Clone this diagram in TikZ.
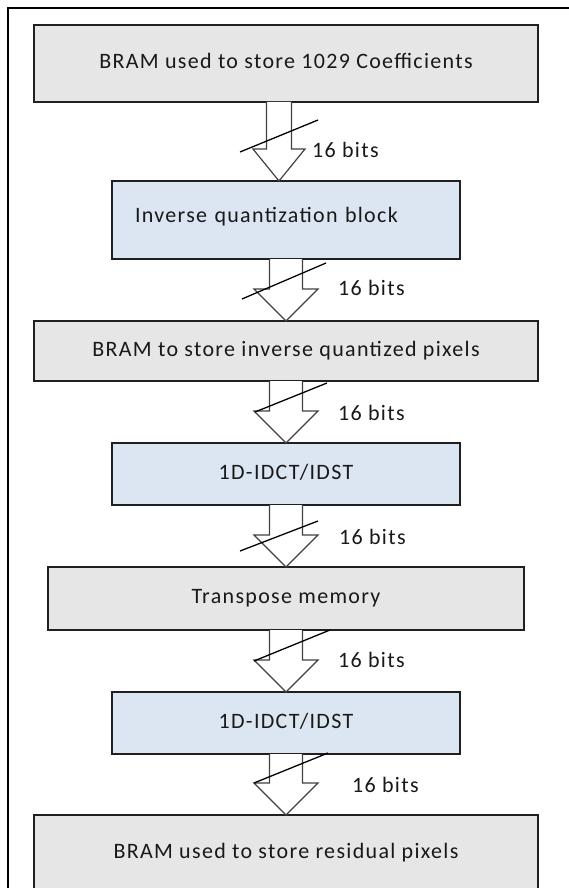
\documentclass[tikz,border=0pt]{standalone}
\usepackage{fontspec}
\setmainfont{Carlito}[LetterSpace=6]
\usetikzlibrary{calc}

\definecolor{memgray}{HTML}{E6E6E6}
\definecolor{procblue}{HTML}{DCE6F2}
\definecolor{inkline}{HTML}{202020}

\tikzset{
  blockbox/.style={draw=inkline, line width=1.5pt, inner sep=0pt, outer sep=0pt,
    font=\fontsize{22pt}{26pt}\selectfont, text=black!90,
    text height=15pt, text depth=5pt},
  membox/.style={blockbox, fill=memgray},
  procbox/.style={blockbox, fill=procblue},
  fatline/.style={draw=inkline!85, line width=1.2pt, fill=white, line join=miter},
  slashline/.style={draw=black, line width=1.3pt},
  buswidth/.style={anchor=west, inner sep=0pt, font=\fontsize{22pt}{26pt}\selectfont, text=black!90},
}

% hollow block arrow from #1 to #2, axis offset #3, shaft half width #4,
% head half width #5, bus slash from #6 to #7 (relative to the tip)
\newcommand\fatarrow[7]{%
  \draw[fatline]
    ($(#1.south)+(#3-#4,0)$) -- ($(#2.north)+(#3-#4,-32)$) --
    ($(#2.north)+(#3-#5,-32)$) -- ($(#2.north)+(#3,0)$) --
    ($(#2.north)+(#3+#5,-32)$) -- ($(#2.north)+(#3+#4,-32)$) --
    ($(#1.south)+(#3+#4,0)$);
  \draw[slashline] ($(#2.north)+(#3,0)+(#6)$) -- ($(#2.north)+(#3,0)+(#7)$);
}

\begin{document}
\begin{tikzpicture}[x=1pt,y=-1pt]
\useasboundingbox (0,0) rectangle (569,888);
\fill[white] (0,0) rectangle (569,888);

% outer frame
\draw[line width=2pt, black] (8,890) -- (8,8) -- (571,8);

% blocks
\node[membox, minimum width=504pt, minimum height=77pt] (b1) at (286,63.5)
  {BRAM used to store 1029 Coefficients};
\node[procbox, minimum width=348pt, minimum height=78pt, text width=302pt,
  align=left, text height=12pt, text depth=8pt] (b2) at (286,220)
  {Inverse quantization block};
\node[membox, minimum width=504pt, minimum height=60pt] (b3) at (286,351)
  {BRAM to store inverse quantized pixels};
\node[procbox, minimum width=348pt, minimum height=62pt] (b4) at (286,474)
  {1D-IDCT/IDST};
\node[membox, minimum width=476pt, minimum height=63pt] (b5) at (286,598.5)
  {Transpose memory};
\node[procbox, minimum width=348pt, minimum height=62pt] (b6) at (286,723)
  {1D-IDCT/IDST};
\node[membox, minimum width=504pt, minimum height=90pt, anchor=north,
  text height=8pt, text depth=12pt] (b7) at (286,815)
  {BRAM used to store residual pixels};

% data paths
\fatarrow{b1}{b2}{-7}{12.5}{26}{-39,-29}{39,-61}
\fatarrow{b2}{b3}{0}{16.5}{32}{-44,-22}{40,-58}
\fatarrow{b3}{b4}{0}{16.5}{32}{-31,-31}{41,-60}
\fatarrow{b4}{b5}{0}{16.5}{32}{-46,-16}{32,-46}
\fatarrow{b5}{b6}{0}{16.5}{32}{-32,-31}{44,-62}
\fatarrow{b6}{b7}{0}{16.5}{32}{-32,-32}{42,-62}

% bus widths
\node[buswidth] (w1) at (312,150) {16 bits};
\node[buswidth] (w2) at (338,288) {16 bits};
\node[buswidth] (w3) at (338,413) {16 bits};
\node[buswidth] (w4) at (339,537) {16 bits};
\node[buswidth] (w5) at (338,660) {16 bits};
\node[buswidth] (w6) at (352,785) {16 bits};
\end{tikzpicture}
\end{document}
